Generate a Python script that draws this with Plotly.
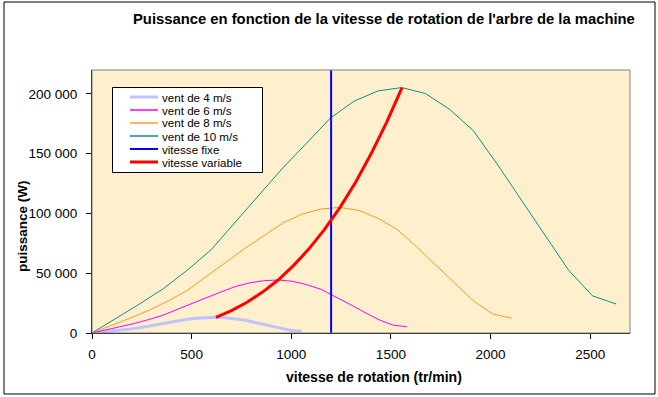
import plotly.graph_objects as go

# ---------------- data ----------------
# vent de 4 m/s
x_v4 = [0, 48, 96, 143, 191, 239, 287, 335, 382, 430, 478, 526, 574, 621, 669, 717, 765, 813, 860, 908, 956, 1004, 1052]
p_v4 = [0, 760, 1560, 2380, 3360, 4460, 5920, 7380, 8830, 10150, 11500, 12420, 12960, 13140, 12820, 11980, 10830, 9050, 7160, 5230, 3360, 1990, 1550]
# vent de 6 m/s
x_v6 = [0, 72, 144, 215, 287, 359, 431, 503, 574, 646, 718, 790, 862, 933, 1005, 1077, 1149, 1221, 1292, 1364, 1436, 1508, 1580]
p_v6 = [0, 2570, 5250, 8040, 11340, 15060, 19980, 24900, 29810, 34260, 38820, 41900, 43740, 44340, 43260, 40440, 36550, 30540, 24150, 17650, 11340, 6720, 5230]
# vent de 8 m/s
x_v8 = [0, 96, 191, 287, 383, 479, 574, 670, 766, 861, 957, 1053, 1148, 1244, 1340, 1436, 1531, 1627, 1723, 1818, 1914, 2010, 2105]
p_v8 = [0, 6090, 12440, 19050, 26880, 35690, 47360, 59030, 70660, 81200, 92010, 99330, 103680, 105110, 102550, 95850, 86630, 72400, 57240, 41830, 26880, 15920, 12390]
# vent de 10 m/s
x_v10 = [0, 120, 239, 359, 478, 598, 718, 837, 957, 1076, 1196, 1316, 1435, 1555, 1674, 1794, 1914, 2033, 2153, 2272, 2392, 2512, 2631]
p_v10 = [0, 11900, 24300, 37200, 52500, 69700, 92500, 115300, 138000, 158600, 179700, 194000, 202500, 205300, 200300, 187200, 169200, 141400, 111800, 81700, 52500, 31100, 24200]
# vitesse fixe
x_fixe = [1200, 1200]
p_fixe = [0, 220000]
# vitesse variable
x_var = [622, 700, 778, 856, 934, 1011, 1089, 1167, 1245, 1323, 1400, 1478, 1556]
p_var = [13100, 18700, 25700, 34200, 44300, 56400, 70400, 86600, 105100, 126100, 149700, 176000, 205300]

series_names = ["vent de 4 m/s", "vent de 6 m/s", "vent de 8 m/s", "vent de 10 m/s",
                "vitesse fixe", "vitesse variable"]
series_x = [x_v4, x_v6, x_v8, x_v10, x_fixe, x_var]
series_y = [p_v4, p_v6, p_v8, p_v10, p_fixe, p_var]

x_ticks = [0, 500, 1000, 1500, 2000, 2500]
y_ticks = [0, 50000, 100000, 150000, 200000]
y_ticktext = ["0", "50 000", "100 000", "150 000", "200 000"]

title_text = "Puissance en fonction de la vitesse de rotation de l'arbre de la machine"
x_title = "vitesse de rotation (tr/min)"
y_title = "puissance (W)"

# ---------------- styles ----------------
colors = ["#C2C2FF", "#FF00FF", "#FF9A22", "#168A8A", "#0000FF", "#FF0000"]
widths = [3, 1, 1, 1, 2, 3]
FONT = "Liberation Sans, Arial, sans-serif"

W, H = 658, 397
L, R, T, B = 92, 630, 70, 333


def fx(p):
    return (p - L) / (R - L)


def fy(p):
    return (B - p) / (B - T)


fig = go.Figure()
for name, xs, ys, c, w in zip(series_names, series_x, series_y, colors, widths):
    fig.add_trace(go.Scatter(x=xs, y=ys, mode="lines", name=name,
                             line=dict(color=c, width=w), showlegend=False))

shapes = []
annotations = []

# outer chart frame
shapes.append(dict(type="rect", xref="paper", yref="paper",
                   x0=fx(4), x1=fx(655), y0=fy(394), y1=fy(2),
                   line=dict(color="black", width=1), layer="above"))
# plot area border (grey)
shapes.append(dict(type="rect", xref="paper", yref="paper",
                   x0=0, x1=1, y0=0, y1=1,
                   line=dict(color="#808080", width=1), layer="above"))

# legend box
lg_x0, lg_x1, lg_y0, lg_y1 = 112.5, 262.5, 87.5, 172.5
shapes.append(dict(type="rect", xref="paper", yref="paper",
                   x0=fx(lg_x0), x1=fx(lg_x1), y0=fy(lg_y1), y1=fy(lg_y0),
                   line=dict(color="black", width=1), fillcolor="white", layer="above"))
row_y = [97.0, 110.0, 123.0, 136.0, 149.0, 162.0]
for name, c, w, ry in zip(series_names, colors, widths, row_y):
    shapes.append(dict(type="line", xref="paper", yref="paper",
                       x0=fx(130), x1=fx(158), y0=fy(ry), y1=fy(ry),
                       line=dict(color=c, width=max(w, 2) if w > 1 else 1.5), layer="above"))
    annotations.append(dict(text=name, xref="paper", yref="paper",
                            x=fx(160), y=fy(ry), xanchor="left", yanchor="middle",
                            showarrow=False, font=dict(family=FONT, size=11.6, color="black")))

# title
annotations.append(dict(text="<b>" + title_text + "</b>", xref="paper", yref="paper",
                        x=fx(384.5), y=fy(19), xanchor="center", yanchor="middle",
                        showarrow=False, font=dict(family=FONT, size=14.8, color="black")))
# axis titles
annotations.append(dict(text="<b>" + x_title + "</b>", xref="paper", yref="paper",
                        x=fx(374), y=fy(377), xanchor="center", yanchor="middle",
                        showarrow=False, font=dict(family=FONT, size=14, color="black")))
annotations.append(dict(text="<b>" + y_title + "</b>", xref="paper", yref="paper",
                        x=fx(22), y=fy(226), xanchor="center", yanchor="middle",
                        textangle=-90,
                        showarrow=False, font=dict(family=FONT, size=13.5, color="black")))

fig.update_layout(
    width=W, height=H,
    margin=dict(l=L, r=W - R, t=T, b=H - B, pad=0),
    paper_bgcolor="white",
    plot_bgcolor="#FEF0CD",
    showlegend=False,
    shapes=shapes,
    annotations=annotations,
    font=dict(family=FONT, size=13.5, color="black"),
)
fig.update_xaxes(range=[0, 2700], tickvals=x_ticks, ticks="outside", ticklen=5,
                 tickcolor="black", showline=True, linecolor="black", linewidth=1,
                 showgrid=False, zeroline=False, ticklabelstandoff=4,
                 tickfont=dict(family=FONT, size=13.5, color="black"))
fig.update_yaxes(range=[0, 220000], tickvals=y_ticks, ticktext=y_ticktext,
                 ticks="outside", ticklen=5, tickcolor="black",
                 showline=True, linecolor="black", linewidth=1,
                 showgrid=False, zeroline=False, ticklabelstandoff=6,
                 tickfont=dict(family=FONT, size=13.5, color="black"))

fig.write_html("out.html",
               config={"displayModeBar": False},
               post_script="document.body.style.margin='0px';document.body.style.overflow='hidden';")
